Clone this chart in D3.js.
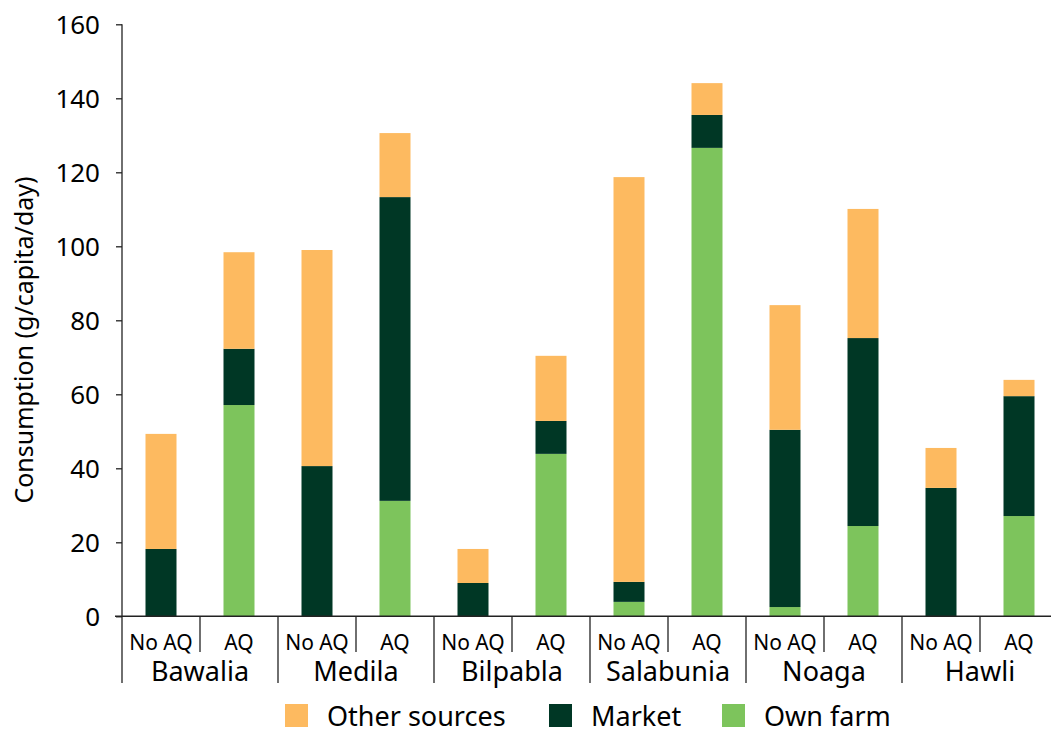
<!DOCTYPE html>
<html><head><meta charset="utf-8">
<script src="https://cdn.jsdelivr.net/npm/d3@7"></script>
<style>body{margin:0;background:#fff}svg{display:block}text{font-family:"Noto Sans",sans-serif;fill:#000}</style>
</head><body><svg id="c" width="1051" height="729"></svg>
<script>
const villages = ["Bawalia","Medila","Bilpabla","Salabunia","Noaga","Hawli"];
const treatments = ["No AQ","AQ"];
const ownFarm = [0,57.1, 0,31.2, 0,43.9, 3.9,126.6, 2.5,24.4, 0,27.1];
const market  = [18.2,15.2, 40.6,82.1, 9.0,8.9, 5.4,8.9, 47.9,50.8, 34.7,32.4];
const other   = [31.1,26.1, 58.4,17.3, 9.2,17.6, 109.4,8.6, 33.7,34.9, 10.8,4.4];
const seriesNames = ["Own farm","Market","Other sources"];
const colors = ["#7DC45C","#003725","#FDBA60"];
const yTicks = [0,20,40,60,80,100,120,140,160];
const legendOrder = ["Other sources","Market","Own farm"];

const svg = d3.select("#c");
const slots = [];
villages.forEach(v=>treatments.forEach(t=>slots.push(v+"|"+t)));
const rows = slots.map((s,i)=>({slot:s,"Own farm":ownFarm[i],"Market":market[i],"Other sources":other[i]}));

const x = d3.scaleBand().domain(slots).range([122,122+78*12]).paddingInner(0).paddingOuter(0);
const y = d3.scaleLinear().domain([0,160]).range([616.3,24.3]);
const color = d3.scaleOrdinal().domain(seriesNames).range(colors);
const barW = 31;

const stack = d3.stack().keys(seriesNames)(rows);
svg.append("g").selectAll("g").data(stack).join("g")
  .attr("fill",d=>color(d.key))
  .selectAll("rect").data(d=>d).join("rect")
  .attr("x",d=>x(d.data.slot)+x.bandwidth()/2-barW/2)
  .attr("width",barW)
  .attr("y",d=>y(d[1]))
  .attr("height",d=>Math.max(0,y(d[0])-y(d[1])));

// y axis
const yAxis = svg.append("g").attr("transform","translate(122,0)")
  .call(d3.axisLeft(y).tickValues(yTicks).tickSize(6).tickPadding(16));
yAxis.select(".domain").attr("stroke","#222").attr("stroke-width",1.3).attr("d","M0,24.3V616.3");
yAxis.selectAll(".tick line").attr("stroke","#222").attr("stroke-width",1.3);
yAxis.selectAll(".tick text").style("font-size","26px").attr("dy","0.35em").attr("fill","#000");

// x axis baseline
svg.append("line").attr("x1",115).attr("x2",1051).attr("y1",y(0)).attr("y2",y(0))
  .attr("stroke","#222").attr("stroke-width",1.5);

// separators
slots.forEach((s,i)=>{
  const xx = x(s);
  const long = i%2===0;
  svg.append("line").attr("x1",xx).attr("x2",xx).attr("y1",y(0)).attr("y2",long?683:652)
    .attr("stroke","#222").attr("stroke-width",1.3);
});
// sub labels
svg.append("g").selectAll("text").data(slots).join("text")
  .attr("x",d=>x(d)+x.bandwidth()/2).attr("y",650)
  .attr("text-anchor","middle").style("font-size","21px")
  .text(d=>d.split("|")[1]);
// group labels
svg.append("g").selectAll("text").data(villages).join("text")
  .attr("x",v=>x(v+"|No AQ")+x.bandwidth()).attr("y",681)
  .attr("text-anchor","middle").style("font-size","27px")
  .text(v=>v);

// y title
svg.append("text").attr("transform","translate(33,340) rotate(-90)")
  .attr("text-anchor","middle").style("font-size","25px")
  .text("Consumption (g/capita/day)");

// legend
const legX = [285,549,722];
const lg = svg.append("g").selectAll("g").data(legendOrder).join("g")
  .attr("transform",(d,i)=>`translate(${legX[i]},704)`);
lg.append("rect").attr("width",23).attr("height",23).attr("fill",d=>color(d));
lg.append("text").attr("x",42).attr("y",22).style("font-size","27px").text(d=>d);
</script></body></html>
